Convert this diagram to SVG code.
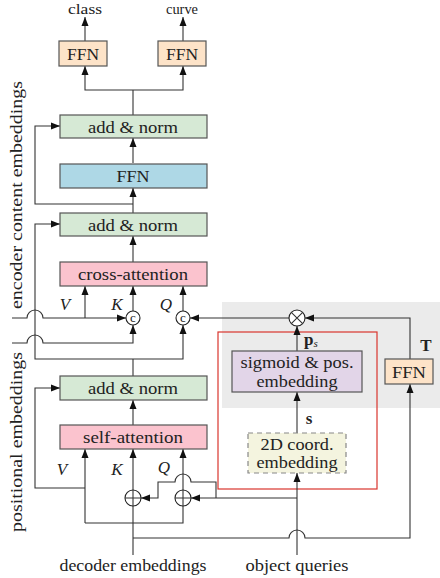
<svg xmlns="http://www.w3.org/2000/svg" width="440" height="578" viewBox="0 0 440 578">
<style>
text{font-family:"Liberation Serif","DejaVu Serif",serif;font-size:17px;fill:#222}
.it{font-style:italic}
.bf{font-weight:bold}
.m{text-anchor:middle}
.box{stroke:#555;stroke-width:1.2}
.ffn{fill:#fde3c8}
.add{fill:#d6e9d5}
.blue{fill:#aed8e6}
.pink{fill:#fbc3ce}
.purp{fill:#e2d5e8}
.beige{fill:#f4f4df;stroke:#888;stroke-width:1.2;stroke-dasharray:5 4}
.c{fill:none;stroke:#333;stroke-width:1.1}
.a{marker-end:url(#arr)}
.op{fill:#fff;stroke:#222;stroke-width:1.1}
</style>
<defs>
<marker id="arr" markerUnits="userSpaceOnUse" markerWidth="9" markerHeight="8" refX="9" refY="4" orient="auto">
<path d="M0,0.5 L9,4 L0,7.5 z" fill="#111"/>
</marker>
</defs>
<g id="bg">
<rect x="222" y="302" width="218" height="106" fill="#ebebeb"/>
<rect x="218" y="332" width="159" height="157" fill="none" stroke="#d9352d" stroke-width="1.2"/>
</g>
<g id="connectors">
<path class="c a" d="M85,41 V17"/>
<path class="c a" d="M183,41 V17"/>
<path class="c" d="M133,115 V90"/>
<path class="c a" d="M133,90 H85 V66"/>
<path class="c a" d="M133,90 H183 V66"/>
<path class="c a" d="M133,163 V138"/>
<path class="c a" d="M133,213 V188"/>
<path class="c a" d="M133,204 H35 V126 H60"/>
<path class="c a" d="M133,262 V236"/>
<path class="c a" d="M133,359 H35 V224 H60"/>
<path class="c a" d="M133,359 H183 V325"/>
<path class="c" d="M133,376 V359"/>
<path class="c a" d="M12,318 H27 A8,8 0 0 1 43,318 H126"/>
<path class="c a" d="M85,318 V286"/>
<path class="c a" d="M12,343 H27 A8,8 0 0 1 43,343 H133 V325"/>
<path class="c a" d="M133,311 V286"/>
<path class="c a" d="M183,311 V286"/>
<path class="c a" d="M289,318 H190"/>
<path class="c a" d="M410,359 V318 H305"/>
<path class="c a" d="M297,351 V326"/>
<path class="c a" d="M297,433 V392"/>
<path class="c a" d="M297,555 V473"/>
<path class="c a" d="M133,538 H289 A8,8 0 0 1 305,538 H410 V384"/>
<path class="c" d="M133,555 V506"/>
<path class="c a" d="M85,523 V449"/>
<path class="c" d="M85,523 H183 V506"/>
<path class="c a" d="M133,490 V449"/>
<path class="c a" d="M183,490 V449"/>
<path class="c a" d="M133,425 V400"/>
<path class="c a" d="M85,488 H35 V388 H60"/>
<path class="c a" d="M297,498 H191"/>
<path class="c a" d="M216,498 V482 H191 A8,8 0 0 0 175,482 H158 V498 H141"/>
</g>
<g id="out-class"><text class="m" x="85" y="14" style="font-size:15px" textLength="34" lengthAdjust="spacingAndGlyphs">class</text></g>
<g id="out-curve"><text class="m" x="182" y="14" style="font-size:15px" textLength="32" lengthAdjust="spacingAndGlyphs">curve</text></g>
<g id="ffn-class"><rect class="box ffn" x="59" y="41" width="48" height="25"/><text class="m" x="83" y="59.5" textLength="32" lengthAdjust="spacingAndGlyphs">FFN</text></g>
<g id="ffn-curve"><rect class="box ffn" x="158" y="41" width="48" height="25"/><text class="m" x="182" y="59.5" textLength="32" lengthAdjust="spacingAndGlyphs">FFN</text></g>
<g id="addnorm1"><rect class="box add" x="60" y="115" width="147" height="23"/><text class="m" x="133" y="132.5" textLength="90" lengthAdjust="spacingAndGlyphs">add &amp; norm</text></g>
<g id="ffn-mid"><rect class="box blue" x="60" y="164" width="147" height="24"/><text class="m" x="133" y="182" textLength="33" lengthAdjust="spacingAndGlyphs">FFN</text></g>
<g id="addnorm2"><rect class="box add" x="60" y="213" width="147" height="23"/><text class="m" x="133" y="230.5" textLength="90" lengthAdjust="spacingAndGlyphs">add &amp; norm</text></g>
<g id="cross-attention"><rect class="box pink" x="60" y="262" width="147" height="24"/><text class="m" x="133" y="279.5" textLength="110" lengthAdjust="spacingAndGlyphs">cross-attention</text></g>
<g id="cK"><circle class="op" cx="133" cy="318" r="7"/><text class="m" x="133" y="322" style="font-size:13px">c</text></g>
<g id="cQ"><circle class="op" cx="183" cy="318" r="7"/><text class="m" x="183" y="322" style="font-size:13px">c</text></g>
<g id="labels-top"><text class="it m" x="65" y="310">V</text><text class="it m" x="117" y="310">K</text><text class="it m" x="166" y="310">Q</text></g>
<g id="addnorm3"><rect class="box add" x="60" y="376" width="147" height="24"/><text class="m" x="133" y="393.5" textLength="90" lengthAdjust="spacingAndGlyphs">add &amp; norm</text></g>
<g id="self-attention"><rect class="box pink" x="60" y="425" width="147" height="24"/><text class="m" x="133" y="442.5" textLength="100" lengthAdjust="spacingAndGlyphs">self-attention</text></g>
<g id="labels-bot"><text class="it m" x="62" y="475">V</text><text class="it m" x="117" y="475">K</text><text class="it m" x="164" y="473">Q</text></g>
<g id="plusK"><circle class="op" cx="133" cy="498" r="8"/><path class="c" d="M125,498 H141 M133,490 V506"/></g>
<g id="plusQ"><circle class="op" cx="183" cy="498" r="8"/><path class="c" d="M175,498 H191 M183,490 V506"/></g>
<g id="times"><circle class="op" cx="297" cy="318" r="8"/><path class="c" d="M291.3,312.3 L302.7,323.7 M302.7,312.3 L291.3,323.7"/></g>
<g id="sigmoid"><rect class="box purp" x="232" y="351" width="130" height="41"/><text class="m" x="297" y="368" textLength="113" lengthAdjust="spacingAndGlyphs">sigmoid &amp; pos.</text><text class="m" x="297" y="387" textLength="81" lengthAdjust="spacingAndGlyphs">embedding</text></g>
<g id="coord2d"><rect class="beige" x="248" y="433" width="98" height="40"/><text class="m" x="297" y="450" textLength="73" lengthAdjust="spacingAndGlyphs">2D coord.</text><text class="m" x="297" y="468" textLength="81" lengthAdjust="spacingAndGlyphs">embedding</text></g>
<g id="ffn-T"><rect class="box ffn" x="385" y="359" width="48" height="25"/><text class="m" x="409" y="377.5" textLength="34" lengthAdjust="spacingAndGlyphs">FFN</text></g>
<g id="label-T"><text class="bf m" x="426" y="351">T</text></g>
<g id="label-ps"><text class="bf" x="304" y="345">p<tspan class="it" style="font-weight:normal;font-size:11px" dy="2">s</tspan></text></g>
<g id="label-s"><text class="bf m" x="309" y="424">s</text></g>
<g id="in-decoder"><text class="m" x="133" y="571" textLength="147" lengthAdjust="spacingAndGlyphs">decoder embeddings</text></g>
<g id="in-queries"><text class="m" x="297" y="571" textLength="103" lengthAdjust="spacingAndGlyphs">object queries</text></g>
<g id="side-enc"><text class="m" transform="translate(22,195) rotate(-90)" textLength="228" lengthAdjust="spacingAndGlyphs">encoder content embeddings</text></g>
<g id="side-pos"><text class="m" transform="translate(22,442) rotate(-90)" textLength="180" lengthAdjust="spacingAndGlyphs">positional embeddings</text></g>
</svg>
